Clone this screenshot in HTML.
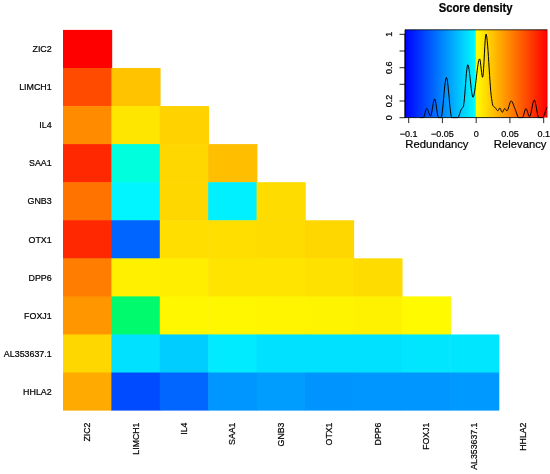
<!DOCTYPE html>
<html><head><meta charset="utf-8"><title>Score heatmap</title>
<style>
html,body{margin:0;padding:0;background:#fff;}
body{width:550px;height:474px;overflow:hidden;font-family:"Liberation Sans",sans-serif;}
svg{display:block;will-change:transform;}
text{font-family:"Liberation Sans",sans-serif;fill:#000;stroke:#000;stroke-width:0.22px;}
</style></head><body>
<svg width="550" height="474" viewBox="0 0 550 474">
<defs>
<linearGradient id="gl" x1="0" x2="1" y1="0" y2="0"><stop offset="0" stop-color="#0000ff"/><stop offset="1" stop-color="#00ffff"/></linearGradient>
<linearGradient id="gr" x1="0" x2="1" y1="0" y2="0"><stop offset="0" stop-color="#ffff00"/><stop offset="1" stop-color="#ff0000"/></linearGradient>
</defs>
<rect width="550" height="474" fill="#fff"/>
<g>
<rect x="63.00" y="29.90" width="49.19" height="38.67" fill="#ff0000"/>
<rect x="63.00" y="67.97" width="48.99" height="38.67" fill="#ff4b00"/>
<rect x="111.39" y="67.97" width="49.19" height="38.67" fill="#ffc300"/>
<rect x="63.00" y="106.04" width="48.99" height="38.67" fill="#ff8c00"/>
<rect x="111.39" y="106.04" width="48.99" height="38.67" fill="#ffe600"/>
<rect x="159.78" y="106.04" width="49.19" height="38.67" fill="#ffd200"/>
<rect x="63.00" y="144.11" width="48.99" height="38.67" fill="#ff2800"/>
<rect x="111.39" y="144.11" width="48.99" height="38.67" fill="#00ffdc"/>
<rect x="159.78" y="144.11" width="48.99" height="38.67" fill="#ffd700"/>
<rect x="208.17" y="144.11" width="49.19" height="38.67" fill="#ffbe00"/>
<rect x="63.00" y="182.18" width="48.99" height="38.67" fill="#ff7300"/>
<rect x="111.39" y="182.18" width="48.99" height="38.67" fill="#00f5ff"/>
<rect x="159.78" y="182.18" width="48.99" height="38.67" fill="#ffd700"/>
<rect x="208.17" y="182.18" width="48.99" height="38.67" fill="#00f0ff"/>
<rect x="256.56" y="182.18" width="49.19" height="38.67" fill="#ffdc00"/>
<rect x="63.00" y="220.25" width="48.99" height="38.67" fill="#ff2800"/>
<rect x="111.39" y="220.25" width="48.99" height="38.67" fill="#0064ff"/>
<rect x="159.78" y="220.25" width="48.99" height="38.67" fill="#ffde00"/>
<rect x="208.17" y="220.25" width="48.99" height="38.67" fill="#ffde00"/>
<rect x="256.56" y="220.25" width="48.99" height="38.67" fill="#ffdc00"/>
<rect x="304.95" y="220.25" width="49.19" height="38.67" fill="#ffd700"/>
<rect x="63.00" y="258.32" width="48.99" height="38.67" fill="#ff7d00"/>
<rect x="111.39" y="258.32" width="48.99" height="38.67" fill="#fff000"/>
<rect x="159.78" y="258.32" width="48.99" height="38.67" fill="#ffee00"/>
<rect x="208.17" y="258.32" width="48.99" height="38.67" fill="#ffe400"/>
<rect x="256.56" y="258.32" width="48.99" height="38.67" fill="#ffe400"/>
<rect x="304.95" y="258.32" width="48.99" height="38.67" fill="#ffe100"/>
<rect x="353.34" y="258.32" width="49.19" height="38.67" fill="#ffdc00"/>
<rect x="63.00" y="296.39" width="48.99" height="38.67" fill="#ff9600"/>
<rect x="111.39" y="296.39" width="48.99" height="38.67" fill="#00fa6e"/>
<rect x="159.78" y="296.39" width="48.99" height="38.67" fill="#fff700"/>
<rect x="208.17" y="296.39" width="48.99" height="38.67" fill="#fff700"/>
<rect x="256.56" y="296.39" width="48.99" height="38.67" fill="#fff500"/>
<rect x="304.95" y="296.39" width="48.99" height="38.67" fill="#fff400"/>
<rect x="353.34" y="296.39" width="48.99" height="38.67" fill="#fff200"/>
<rect x="401.73" y="296.39" width="49.19" height="38.67" fill="#fffa00"/>
<rect x="63.00" y="334.46" width="48.99" height="38.67" fill="#ffd700"/>
<rect x="111.39" y="334.46" width="48.99" height="38.67" fill="#00e1ff"/>
<rect x="159.78" y="334.46" width="48.99" height="38.67" fill="#00cdff"/>
<rect x="208.17" y="334.46" width="48.99" height="38.67" fill="#00ebff"/>
<rect x="256.56" y="334.46" width="48.99" height="38.67" fill="#00e1ff"/>
<rect x="304.95" y="334.46" width="48.99" height="38.67" fill="#00e1ff"/>
<rect x="353.34" y="334.46" width="48.99" height="38.67" fill="#00e1ff"/>
<rect x="401.73" y="334.46" width="48.99" height="38.67" fill="#00e6ff"/>
<rect x="450.12" y="334.46" width="49.19" height="38.67" fill="#00e6ff"/>
<rect x="63.00" y="372.53" width="48.99" height="38.07" fill="#ffaa00"/>
<rect x="111.39" y="372.53" width="48.99" height="38.07" fill="#004bff"/>
<rect x="159.78" y="372.53" width="48.99" height="38.07" fill="#0066ff"/>
<rect x="208.17" y="372.53" width="48.99" height="38.07" fill="#0096ff"/>
<rect x="256.56" y="372.53" width="48.99" height="38.07" fill="#009dff"/>
<rect x="304.95" y="372.53" width="48.99" height="38.07" fill="#0094ff"/>
<rect x="353.34" y="372.53" width="48.99" height="38.07" fill="#0096ff"/>
<rect x="401.73" y="372.53" width="48.99" height="38.07" fill="#0096ff"/>
<rect x="450.12" y="372.53" width="49.19" height="38.07" fill="#0099ff"/>
</g>
<g font-size="9.45" text-anchor="end">
<text transform="translate(51.7,52.19) scale(0.94,1)">ZIC2</text>
<text transform="translate(51.7,90.25) scale(0.94,1)">LIMCH1</text>
<text transform="translate(51.7,128.32) scale(0.94,1)">IL4</text>
<text transform="translate(51.7,166.40) scale(0.94,1)">SAA1</text>
<text transform="translate(51.7,204.47) scale(0.94,1)">GNB3</text>
<text transform="translate(51.7,242.53) scale(0.94,1)">OTX1</text>
<text transform="translate(51.7,280.61) scale(0.94,1)">DPP6</text>
<text transform="translate(51.7,318.67) scale(0.94,1)">FOXJ1</text>
<text transform="translate(51.7,356.75) scale(0.94,1)">AL353637.1</text>
<text transform="translate(51.7,394.81) scale(0.94,1)">HHLA2</text>
</g>
<g font-size="9.45" text-anchor="end">
<text transform="translate(90.19,422.5) rotate(-90) scale(0.93,1)">ZIC2</text>
<text transform="translate(138.59,422.5) rotate(-90) scale(0.93,1)">LIMCH1</text>
<text transform="translate(186.97,422.5) rotate(-90) scale(0.93,1)">IL4</text>
<text transform="translate(235.37,422.5) rotate(-90) scale(0.93,1)">SAA1</text>
<text transform="translate(283.75,422.5) rotate(-90) scale(0.93,1)">GNB3</text>
<text transform="translate(332.14,422.5) rotate(-90) scale(0.93,1)">OTX1</text>
<text transform="translate(380.54,422.5) rotate(-90) scale(0.93,1)">DPP6</text>
<text transform="translate(428.93,422.5) rotate(-90) scale(0.93,1)">FOXJ1</text>
<text transform="translate(477.31,422.5) rotate(-90) scale(0.93,1)">AL353637.1</text>
<text transform="translate(525.70,422.5) rotate(-90) scale(0.93,1)">HHLA2</text>
</g>
<rect x="405.0" y="29.8" width="70.90" height="87.80" fill="url(#gl)"/>
<rect x="475.9" y="29.8" width="71.40" height="87.80" fill="url(#gr)"/>
<path d="M405.0,117.6 V29.8 H547.3" fill="none" stroke="#000" stroke-width="0.8"/>
<path d="M547.3,29.8 V117.6" fill="none" stroke="#000" stroke-width="0.8" stroke-opacity="0.3"/>
<path d="M420.0,117.6 L420.4,117.6 L420.8,117.6 L421.2,117.6 L421.6,117.6 L422.0,117.6 L422.4,117.6 L422.8,117.6 L423.2,117.6 L423.6,117.4 L424.0,116.6 L424.4,115.4 L424.8,114.0 L425.2,112.4 L425.6,110.9 L426.0,109.6 L426.4,108.7 L426.8,108.4 L427.2,108.6 L427.6,109.3 L428.0,110.3 L428.4,111.4 L428.8,112.7 L429.2,113.8 L429.6,114.9 L430.0,115.6 L430.4,116.0 L430.8,115.7 L431.2,114.7 L431.6,113.0 L432.0,110.8 L432.4,108.4 L432.8,106.0 L433.2,103.6 L433.6,101.5 L434.0,100.0 L434.4,99.1 L434.8,99.1 L435.2,100.1 L435.6,101.9 L436.0,104.2 L436.4,106.9 L436.8,109.7 L437.2,112.4 L437.6,114.7 L438.0,116.5 L438.4,117.5 L438.8,117.6 L439.2,117.6 L439.6,117.6 L440.0,117.6 L440.4,117.6 L440.8,117.6 L441.2,117.4 L441.6,116.2 L442.0,114.0 L442.4,110.9 L442.8,107.2 L443.2,103.0 L443.6,98.6 L444.0,94.2 L444.4,89.9 L444.8,85.9 L445.2,82.5 L445.6,79.8 L446.0,78.0 L446.4,77.4 L446.8,78.0 L447.2,79.8 L447.6,82.5 L448.0,85.9 L448.4,89.9 L448.8,94.2 L449.2,98.6 L449.6,103.0 L450.0,107.2 L450.4,110.9 L450.8,114.0 L451.2,116.2 L451.6,117.4 L452.0,117.6 L452.4,117.6 L452.8,117.6 L453.2,117.6 L453.6,117.6 L454.0,117.6 L454.4,117.6 L454.8,117.6 L455.2,117.6 L455.6,117.6 L456.0,117.6 L456.4,117.6 L456.8,117.6 L457.2,117.6 L457.6,117.6 L458.0,117.4 L458.4,116.9 L458.8,116.1 L459.2,115.1 L459.6,113.9 L460.0,112.8 L460.4,111.6 L460.8,110.5 L461.2,109.5 L461.6,108.7 L462.0,108.3 L462.4,107.9 L462.8,107.5 L463.2,107.0 L463.6,105.5 L464.0,102.7 L464.4,98.8 L464.8,94.1 L465.2,88.9 L465.6,83.5 L466.0,78.3 L466.4,73.6 L466.8,69.5 L467.2,66.6 L467.6,64.9 L468.0,64.8 L468.4,65.9 L468.8,67.8 L469.2,70.5 L469.6,73.7 L470.0,77.2 L470.4,80.9 L470.8,84.7 L471.2,88.2 L471.6,91.4 L472.0,94.1 L472.4,96.0 L472.8,97.1 L473.2,97.1 L473.6,96.3 L474.0,94.8 L474.4,92.8 L474.8,90.2 L475.2,87.3 L475.6,84.1 L476.0,80.7 L476.4,77.2 L476.8,73.7 L477.2,70.4 L477.6,67.3 L478.0,64.6 L478.4,62.2 L478.8,60.5 L479.2,59.3 L479.6,58.9 L480.0,59.8 L480.4,62.1 L480.8,65.4 L481.2,69.1 L481.6,72.6 L482.0,75.5 L482.4,77.2 L482.8,77.0 L483.2,73.8 L483.6,68.4 L484.0,61.4 L484.4,53.8 L484.8,46.5 L485.2,40.2 L485.6,35.8 L486.0,34.1 L486.4,34.9 L486.8,37.1 L487.2,40.6 L487.6,45.1 L488.0,50.4 L488.4,56.3 L488.8,62.6 L489.2,69.0 L489.6,75.3 L490.0,81.4 L490.4,86.9 L490.8,91.8 L491.2,95.7 L491.6,98.6 L492.0,101.3 L492.4,103.7 L492.8,105.3 L493.2,106.1 L493.6,106.5 L494.0,106.8 L494.4,107.1 L494.8,107.3 L495.2,107.7 L495.6,108.2 L496.0,108.8 L496.4,109.4 L496.8,110.0 L497.2,110.4 L497.6,110.7 L498.0,110.8 L498.4,110.3 L498.8,109.5 L499.2,108.7 L499.6,108.1 L500.0,108.1 L500.4,108.7 L500.8,109.6 L501.2,110.7 L501.6,111.6 L502.0,112.2 L502.4,112.2 L502.8,111.8 L503.2,111.1 L503.6,110.2 L504.0,109.4 L504.4,108.8 L504.8,108.6 L505.2,108.8 L505.6,109.3 L506.0,109.9 L506.4,110.5 L506.8,110.8 L507.2,110.7 L507.6,110.1 L508.0,109.2 L508.4,108.0 L508.8,106.7 L509.2,105.3 L509.6,104.0 L510.0,102.8 L510.4,101.8 L510.8,101.1 L511.2,100.9 L511.6,101.1 L512.0,101.5 L512.4,102.2 L512.8,103.1 L513.2,104.1 L513.6,105.1 L514.0,106.3 L514.4,107.4 L514.8,108.4 L515.2,109.3 L515.6,110.3 L516.0,111.5 L516.4,112.7 L516.8,113.9 L517.2,115.1 L517.6,116.1 L518.0,116.9 L518.4,117.4 L518.8,117.6 L519.2,117.6 L519.6,117.6 L520.0,117.6 L520.4,117.6 L520.8,117.6 L521.2,117.6 L521.6,117.6 L522.0,117.6 L522.4,117.6 L522.8,117.3 L523.2,116.4 L523.6,115.2 L524.0,113.7 L524.4,112.1 L524.8,110.7 L525.2,109.5 L525.6,108.8 L526.0,108.6 L526.4,109.0 L526.8,109.8 L527.2,111.0 L527.6,112.3 L528.0,113.6 L528.4,114.8 L528.8,115.8 L529.2,116.4 L529.6,116.6 L530.0,116.1 L530.4,115.1 L530.8,113.6 L531.2,111.8 L531.6,109.8 L532.0,107.8 L532.4,105.7 L532.8,103.9 L533.2,102.2 L533.6,101.0 L534.0,100.2 L534.4,100.0 L534.8,100.6 L535.2,101.8 L535.6,103.6 L536.0,105.6 L536.4,107.9 L536.8,110.3 L537.2,112.5 L537.6,114.5 L538.0,116.1 L538.4,117.2 L538.8,117.6 L539.2,117.6 L539.6,117.6 L540.0,117.6 L540.4,117.6 L540.8,117.6 L541.2,117.6 L541.6,117.6 L542.0,117.6 L542.4,117.6 L542.8,117.5 L543.2,117.1 L543.6,116.4 L544.0,115.5 L544.4,114.4 L544.8,113.2 L545.2,112.0 L545.6,110.8 L546.0,109.7 L546.4,108.8 L546.8,108.0 L547.2,107.4" fill="none" stroke="#000" stroke-width="1.0" stroke-linejoin="round"/>
<g stroke="#000" stroke-width="0.85" fill="none">
<path d="M405.0,117.7 V34.3"/>
<path d="M399.5,117.7 H405.0"/>
<path d="M399.5,101.0 H405.0"/>
<path d="M399.5,84.3 H405.0"/>
<path d="M399.5,67.7 H405.0"/>
<path d="M399.5,51.0 H405.0"/>
<path d="M399.5,34.3 H405.0"/>
<path d="M405.0,117.6 H543.7"/>
<path d="M408.7,117.6 V123.1"/>
<path d="M442.4,117.6 V123.1"/>
<path d="M476.2,117.6 V123.1"/>
<path d="M509.9,117.6 V123.1"/>
<path d="M543.7,117.6 V123.1"/>
</g>
<g font-size="9" text-anchor="middle">
<text transform="translate(391.9,117.7) rotate(-90)">0</text>
<text transform="translate(391.9,101.0) rotate(-90)">0.2</text>
<text transform="translate(391.9,67.7) rotate(-90)">0.6</text>
<text transform="translate(391.9,34.3) rotate(-90)">1</text>
</g>
<g font-size="9" text-anchor="middle">
<text x="408.7" y="136.9">−0.1</text>
<text x="442.4" y="136.9">−0.05</text>
<text x="476.2" y="136.9">0</text>
<text x="509.9" y="136.9">0.05</text>
<text x="543.7" y="136.9">0.1</text>
</g>
<text transform="translate(405.3,147.9) scale(0.955,1)" font-size="11.8">Redundancy</text>
<text transform="translate(546.4,147.9) scale(0.955,1)" font-size="11.8" text-anchor="end">Relevancy</text>
<text transform="translate(475.6,12.25) scale(0.945,1)" font-size="11.95" font-weight="bold" text-anchor="middle">Score density</text>
</svg></body></html>
